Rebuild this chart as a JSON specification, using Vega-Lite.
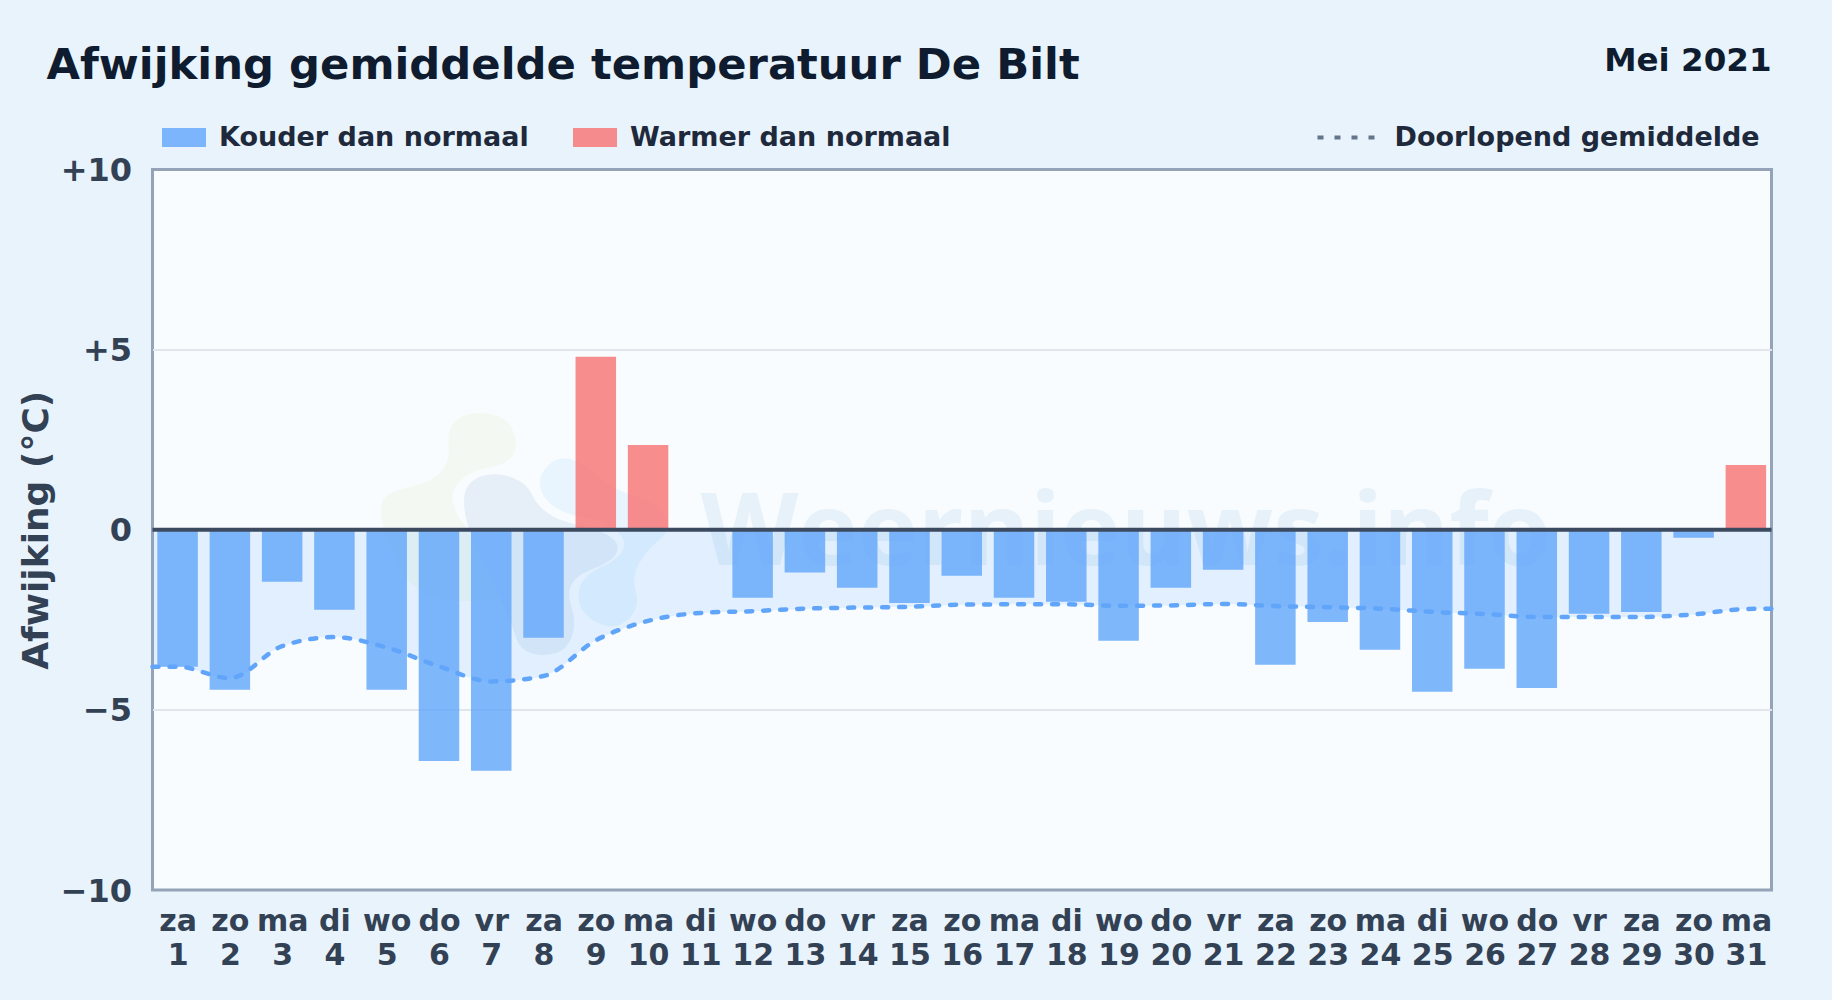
{
"$schema":"https://vega.github.io/schema/vega-lite/v6.json",
"width":1619,"height":720.5,
"autosize":{"type":"none"},
"padding":{"left":152.5,"top":169.5,"right":60.5,"bottom":110},
"background":"#e8f3fc",
"title":{"text":"Afwijking gemiddelde temperatuur De Bilt","anchor":"start","frame":"group","dx":-106,"offset":-78,"baseline":"alphabetic","fontSize":43.3,"font":"DejaVu Sans","fontWeight":"bold","color":"#0f1b2e"},
"config":{"view":{"fill":"#f8fcff","stroke":"#94a3b8","strokeWidth":3},"font":"DejaVu Sans"},
"datasets":{
"dagen":[
{"dag":1,"afwijking":-3.8,"categorie":"Kouder dan normaal"},
{"dag":2,"afwijking":-4.44,"categorie":"Kouder dan normaal"},
{"dag":3,"afwijking":-1.44,"categorie":"Kouder dan normaal"},
{"dag":4,"afwijking":-2.22,"categorie":"Kouder dan normaal"},
{"dag":5,"afwijking":-4.44,"categorie":"Kouder dan normaal"},
{"dag":6,"afwijking":-6.42,"categorie":"Kouder dan normaal"},
{"dag":7,"afwijking":-6.69,"categorie":"Kouder dan normaal"},
{"dag":8,"afwijking":-3.0,"categorie":"Kouder dan normaal"},
{"dag":9,"afwijking":4.8,"categorie":"Warmer dan normaal"},
{"dag":10,"afwijking":2.35,"categorie":"Warmer dan normaal"},
{"dag":11,"afwijking":0,"categorie":"Kouder dan normaal"},
{"dag":12,"afwijking":-1.89,"categorie":"Kouder dan normaal"},
{"dag":13,"afwijking":-1.19,"categorie":"Kouder dan normaal"},
{"dag":14,"afwijking":-1.61,"categorie":"Kouder dan normaal"},
{"dag":15,"afwijking":-2.03,"categorie":"Kouder dan normaal"},
{"dag":16,"afwijking":-1.28,"categorie":"Kouder dan normaal"},
{"dag":17,"afwijking":-1.89,"categorie":"Kouder dan normaal"},
{"dag":18,"afwijking":-2.0,"categorie":"Kouder dan normaal"},
{"dag":19,"afwijking":-3.08,"categorie":"Kouder dan normaal"},
{"dag":20,"afwijking":-1.61,"categorie":"Kouder dan normaal"},
{"dag":21,"afwijking":-1.11,"categorie":"Kouder dan normaal"},
{"dag":22,"afwijking":-3.75,"categorie":"Kouder dan normaal"},
{"dag":23,"afwijking":-2.56,"categorie":"Kouder dan normaal"},
{"dag":24,"afwijking":-3.33,"categorie":"Kouder dan normaal"},
{"dag":25,"afwijking":-4.5,"categorie":"Kouder dan normaal"},
{"dag":26,"afwijking":-3.86,"categorie":"Kouder dan normaal"},
{"dag":27,"afwijking":-4.39,"categorie":"Kouder dan normaal"},
{"dag":28,"afwijking":-2.33,"categorie":"Kouder dan normaal"},
{"dag":29,"afwijking":-2.28,"categorie":"Kouder dan normaal"},
{"dag":30,"afwijking":-0.22,"categorie":"Kouder dan normaal"},
{"dag":31,"afwijking":1.8,"categorie":"Warmer dan normaal"}
],
"lopend":[
{"dag":0.52,"gemiddelde":-3.8,"reeks":"Doorlopend gemiddelde"},
{"dag":1,"gemiddelde":-3.8,"reeks":"Doorlopend gemiddelde"},
{"dag":2,"gemiddelde":-4.12,"reeks":"Doorlopend gemiddelde"},
{"dag":3,"gemiddelde":-3.23,"reeks":"Doorlopend gemiddelde"},
{"dag":4,"gemiddelde":-2.98,"reeks":"Doorlopend gemiddelde"},
{"dag":5,"gemiddelde":-3.27,"reeks":"Doorlopend gemiddelde"},
{"dag":6,"gemiddelde":-3.79,"reeks":"Doorlopend gemiddelde"},
{"dag":7,"gemiddelde":-4.21,"reeks":"Doorlopend gemiddelde"},
{"dag":8,"gemiddelde":-4.06,"reeks":"Doorlopend gemiddelde"},
{"dag":9,"gemiddelde":-3.07,"reeks":"Doorlopend gemiddelde"},
{"dag":10,"gemiddelde":-2.53,"reeks":"Doorlopend gemiddelde"},
{"dag":11,"gemiddelde":-2.31,"reeks":"Doorlopend gemiddelde"},
{"dag":12,"gemiddelde":-2.26,"reeks":"Doorlopend gemiddelde"},
{"dag":13,"gemiddelde":-2.19,"reeks":"Doorlopend gemiddelde"},
{"dag":14,"gemiddelde":-2.16,"reeks":"Doorlopend gemiddelde"},
{"dag":15,"gemiddelde":-2.14,"reeks":"Doorlopend gemiddelde"},
{"dag":16,"gemiddelde":-2.08,"reeks":"Doorlopend gemiddelde"},
{"dag":17,"gemiddelde":-2.07,"reeks":"Doorlopend gemiddelde"},
{"dag":18,"gemiddelde":-2.07,"reeks":"Doorlopend gemiddelde"},
{"dag":19,"gemiddelde":-2.11,"reeks":"Doorlopend gemiddelde"},
{"dag":20,"gemiddelde":-2.1,"reeks":"Doorlopend gemiddelde"},
{"dag":21,"gemiddelde":-2.06,"reeks":"Doorlopend gemiddelde"},
{"dag":22,"gemiddelde":-2.12,"reeks":"Doorlopend gemiddelde"},
{"dag":23,"gemiddelde":-2.15,"reeks":"Doorlopend gemiddelde"},
{"dag":24,"gemiddelde":-2.19,"reeks":"Doorlopend gemiddelde"},
{"dag":25,"gemiddelde":-2.28,"reeks":"Doorlopend gemiddelde"},
{"dag":26,"gemiddelde":-2.34,"reeks":"Doorlopend gemiddelde"},
{"dag":27,"gemiddelde":-2.42,"reeks":"Doorlopend gemiddelde"},
{"dag":28,"gemiddelde":-2.42,"reeks":"Doorlopend gemiddelde"},
{"dag":29,"gemiddelde":-2.42,"reeks":"Doorlopend gemiddelde"},
{"dag":30,"gemiddelde":-2.35,"reeks":"Doorlopend gemiddelde"},
{"dag":31,"gemiddelde":-2.2,"reeks":"Doorlopend gemiddelde"},
{"dag":31.49,"gemiddelde":-2.19,"reeks":"Doorlopend gemiddelde"}
],
"een":[{"label":"Weernieuws.info"}]
},
"layer":[
{"data":{"name":"een"},
 "mark":{"type":"point","filled":true,"fill":"#f3f9f2","opacity":1,"strokeWidth":0,"size":0.4444,
 "shape":"M70,410 Q60,370 65,340 Q70,310 145,292 Q220,275 245,242 Q270,210 266,170 Q262,130 276,105 Q290,80 330,72 Q370,65 410,77 Q450,90 462,130 Q475,170 457,197 Q440,225 390,232 Q340,240 310,265 Q280,290 277,320 Q275,350 302,390 Q330,430 400,495 Q470,560 470,590 Q470,620 385,630 Q300,640 225,620 Q150,600 115,525 Q80,450 70,410Z"},
 "encoding":{"x":{"datum":4.49,"type":"quantitative","scale":{"domain":[0.52,31.49],"nice":false,"zero":false,"padding":0},
   "axis":{"values":[1,2,3,4,5,6,7,8,9,10,11,12,13,14,15,16,17,18,19,20,21,22,23,24,25,26,27,28,29,30,31],"title":null,"grid":false,"domain":false,"ticks":false,"labelOverlap":false,"labelFlush":false,"labelBound":false,"labelFont":"DejaVu Sans","labelFontWeight":"bold","labelFontSize":30,"labelColor":"#334155","labelPadding":16,"labelLineHeight":34,"labelExpr":"[['za','zo','ma','di','wo','do','vr'][(datum.value-1)%7], datum.label]"}},
  "y":{"datum":3.88,"type":"quantitative","scale":{"domain":[-10,10],"nice":false,"zero":false,"padding":0},
   "axis":{"values":[-10,-5,0,5,10],"title":"Afwijking (°C)","titleFont":"DejaVu Sans","titleFontWeight":"bold","titleFontSize":36,"titleColor":"#334155","titlePadding":5,"grid":true,"gridColor":{"condition":{"test":"abs(datum.value)==5","value":"#e0e6ec"},"value":"transparent"},"gridWidth":2,"domain":false,"ticks":false,"labelFont":"DejaVu Sans","labelFontWeight":"bold","labelFontSize":32,"labelColor":"#334155","labelPadding":21,"labelOffset":1,"labelOverlap":false,"labelFlush":false,"labelBound":false,"labelExpr":"datum.value>0?'+'+datum.value:(datum.value<0?'−'+abs(datum.value):'0')"}}}},
{"data":{"name":"een"},
 "mark":{"type":"point","filled":true,"fill":"#e8f5fe","opacity":1,"strokeWidth":0,"size":0.4444,
 "shape":"M545,305 Q530,270 555,237 Q580,205 615,205 Q650,205 705,252 Q760,300 830,320 Q900,340 917,380 Q935,420 897,450 Q860,480 837,520 Q815,560 827,605 Q840,650 810,682 Q780,715 740,707 Q700,700 675,670 Q650,640 657,600 Q665,560 722,532 Q780,505 790,477 Q800,450 770,422 Q740,395 690,387 Q640,380 600,360 Q560,340 545,305Z"},
 "encoding":{"x":{"datum":4.49,"type":"quantitative"},"y":{"datum":3.88,"type":"quantitative"}}},
{"data":{"name":"een"},
 "mark":{"type":"point","filled":true,"fill":"#e6eff8","opacity":1,"strokeWidth":0,"size":0.4444,
 "shape":"M317,380 Q305,320 322,291 Q340,262 380,255 Q420,248 460,264 Q500,280 515,312 Q530,345 560,367 Q590,390 635,400 Q680,410 725,427 Q770,445 772,470 Q775,495 747,512 Q720,530 685,542 Q650,555 635,582 Q620,610 635,655 Q650,700 635,740 Q620,780 585,790 Q550,800 515,790 Q480,780 467,740 Q455,700 427,640 Q400,580 365,510 Q330,440 317,380Z"},
 "encoding":{"x":{"datum":4.49,"type":"quantitative"},"y":{"datum":3.88,"type":"quantitative"}}},
{"data":{"name":"een"},
 "mark":{"type":"text","font":"Open Sans","fontWeight":"bold","fontSize":101,"color":"#e6f1f9","align":"center","baseline":"alphabetic"},
 "encoding":{"x":{"datum":19.14,"type":"quantitative"},"y":{"datum":-0.98,"type":"quantitative"},"text":{"field":"label"}}},
{"data":{"name":"lopend"},
 "mark":{"type":"area","interpolate":"monotone","color":"#60a5fa","opacity":0.15},
 "encoding":{"x":{"field":"dag","type":"quantitative"},"y":{"field":"gemiddelde","type":"quantitative"},"y2":{"datum":0}}},
{"data":{"name":"dagen"},
 "mark":{"type":"bar","width":40.5,"opacity":0.8},
 "encoding":{"x":{"field":"dag","type":"quantitative"},"y":{"field":"afwijking","type":"quantitative"},"y2":{"datum":0},
 "color":{"field":"categorie","type":"nominal","scale":{"domain":["Kouder dan normaal","Warmer dan normaal"],"range":["#60a5fa","#f87171"]},
  "legend":{"title":null,"orient":"none","legendX":9.5,"legendY":-54,"direction":"horizontal","padding":0,"columns":2,"columnPadding":44,"symbolType":"M-1,-0.43H1V0.43H-1Z","symbolSize":1936,"symbolStrokeWidth":0,"labelOffset":13,"labelFont":"DejaVu Sans","labelFontWeight":"bold","labelFontSize":27,"labelColor":"#1e293b","symbolOpacity":0.8,"labelLimit":500}}}},
{"data":{"name":"lopend"},
 "mark":{"type":"line","interpolate":"monotone","color":"#60a5fa","strokeWidth":4.5,"strokeCap":"round"},
 "encoding":{"x":{"field":"dag","type":"quantitative"},"y":{"field":"gemiddelde","type":"quantitative"},
 "strokeDash":{"field":"reeks","type":"nominal","scale":{"domain":["Doorlopend gemiddelde"],"range":[[6,11]]},
  "legend":{"title":null,"orient":"none","legendX":1163,"legendY":-63,"padding":0,"symbolType":"stroke","symbolSize":3364,"symbolStrokeWidth":4,"symbolStrokeColor":"#64748b","labelOffset":17,"labelFont":"DejaVu Sans","labelFontWeight":"bold","labelFontSize":27,"labelColor":"#1e293b","labelLimit":500,"encoding":{"symbols":{"update":{"strokeDash":{"value":[4,13]},"stroke":{"value":"#64748b"}}}}}}}},
{"data":{"name":"een"},
 "mark":{"type":"rule","stroke":"#3c4a60","strokeWidth":4},
 "encoding":{"y":{"datum":0,"type":"quantitative"}}},
{"data":{"values":[{"periode":"Mei 2021"}]},
 "mark":{"type":"text","fontSize":32.5,"font":"DejaVu Sans","fontWeight":"bold","color":"#0f1b2e","align":"right","baseline":"alphabetic"},
 "encoding":{"x":{"datum":31.49,"type":"quantitative"},"y":{"datum":12.74,"type":"quantitative"},"text":{"field":"periode"}}}
]
}
